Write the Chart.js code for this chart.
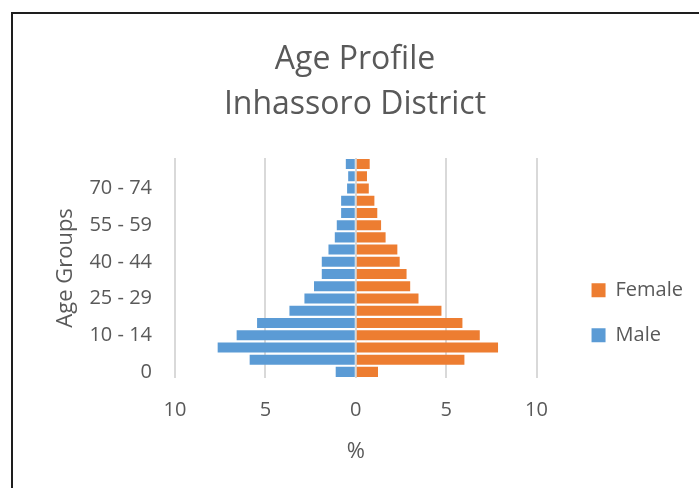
<!DOCTYPE html>
<html>
<head>
<meta charset="utf-8">
<script src="https://cdn.jsdelivr.net/npm/chart.js@4/dist/chart.umd.min.js"></script>
<style>
  html, body { margin: 0; padding: 0; background: #fff; overflow: hidden; }
  #frame { position: absolute; left: 11px; top: 12px; width: 800px; height: 600px;
           border-top: 2px solid #1e1e1e; border-left: 2px solid #1e1e1e; }
  #wrap { position: absolute; left: 0; top: 0; width: 699px; height: 488px; }
</style>
</head>
<body>
<div id="frame"></div>
<div id="wrap"><canvas id="pyramid"></canvas></div>
<script>
const ageGroups = ['0', '1 - 4', '5 - 9', '10 - 14', '15 - 19', '20 - 24', '25 - 29', '30 - 34',
  '35 - 39', '40 - 44', '45 - 49', '50 - 54', '55 - 59', '60 - 64', '65 - 69', '70 - 74',
  '75 - 79', '80+'];
// percent of population
const malePct = [1.11, 5.87, 7.64, 6.59, 5.46, 3.67, 2.84, 2.31, 1.88, 1.88, 1.51, 1.16, 1.05,
  0.81, 0.81, 0.48, 0.42, 0.55];
const femalePct = [1.23, 6.01, 7.87, 6.86, 5.90, 4.74, 3.47, 3.01, 2.81, 2.43, 2.30, 1.65, 1.40,
  1.19, 1.03, 0.72, 0.62, 0.77];

const fontFamily = '"Open Sans", "Noto Sans", sans-serif';
const grey = '#595959';

const plotLeft = 175;
const plotRight = 537;
const legendPad = 25;
const legendFont = 20;
const legendShift = 30;   // legend sits a bit away from the plot, like in Excel

// width the legend will take, so the plot can stop where it stops in the picture
const measure = document.createElement('canvas').getContext('2d');
measure.font = legendFont + 'px ' + fontFamily;
const legendW = legendPad + 14 + legendFont / 2 + measure.measureText('Female').width + 10;
const padRight = Math.round(699 - plotRight - legendW);
const padLeft = padRight + 11;   // keeps the title centred over x = 355

const shiftLegend = {
  id: 'shiftLegend',
  afterLayout: (chart) => {
    if (chart.legend) {
      chart.legend.left += legendShift;
      chart.legend.right += legendShift;
    }
  }
};

const data = {
  labels: ageGroups,
  datasets: [
    {
      label: 'Male',
      data: malePct.map(v => -v),
      backgroundColor: '#5B9BD5',
      barPercentage: 0.82,
      categoryPercentage: 1
    },
    {
      label: 'Female',
      data: femalePct,
      backgroundColor: '#ED7D31',
      barPercentage: 0.82,
      categoryPercentage: 1
    }
  ]
};

const config = {
  type: 'bar',
  data: data,
  plugins: [shiftLegend],
  options: {
    indexAxis: 'y',
    responsive: true,
    maintainAspectRatio: false,
    animation: false,
    layout: { padding: { left: padLeft, right: padRight, top: 0, bottom: 0 } },
    plugins: {
      title: {
        display: true,
        text: ['Age Profile', 'Inhassoro District'],
        color: grey,
        font: { family: fontFamily, size: 32, weight: 'normal', lineHeight: 1.42 },
        padding: { top: 37, bottom: 30 }
      },
      legend: {
        position: 'right',
        fullSize: false,
        reverse: true,
        title: { display: true, text: ' ', font: { size: 12 }, padding: { top: 75, bottom: 0 } },
        labels: {
          boxWidth: 14,
          boxHeight: 14,
          padding: legendPad,
          color: grey,
          font: { family: fontFamily, size: legendFont }
        }
      },
      tooltip: { enabled: false }
    },
    scales: {
      x: {
        type: 'linear',
        stacked: true,
        min: -10,
        max: 10,
        afterFit: (scale) => { scale.height = 110; },
        grid: { color: '#d9d9d9', lineWidth: 2, drawTicks: false },
        border: { display: false },
        ticks: {
          stepSize: 5,
          padding: 20,
          color: grey,
          font: { family: fontFamily, size: 20 },
          callback: (value) => Math.abs(value)
        },
        title: {
          display: true,
          text: '%',
          color: grey,
          font: { family: fontFamily, size: 22 },
          padding: { top: 0, bottom: 23 }
        }
      },
      y: {
        type: 'category',
        stacked: true,
        reverse: true,
        afterFit: (scale) => { scale.width = plotLeft - padLeft; },
        grid: { display: false, drawTicks: false },
        border: { display: false },
        ticks: {
          autoSkip: false,
          padding: 23,
          color: grey,
          font: { family: fontFamily, size: 20 },
          callback: (value, index) => index % 3 === 0 ? ageGroups[index] : ''
        },
        title: {
          display: true,
          text: 'Age Groups',
          color: grey,
          font: { family: fontFamily, size: 22 },
          padding: { top: Math.max(0, 65.5 - padLeft - 13.2), bottom: 0 }
        }
      }
    }
  }
};

const myChart = new Chart(document.getElementById('pyramid'), config);
</script>
</body>
</html>
